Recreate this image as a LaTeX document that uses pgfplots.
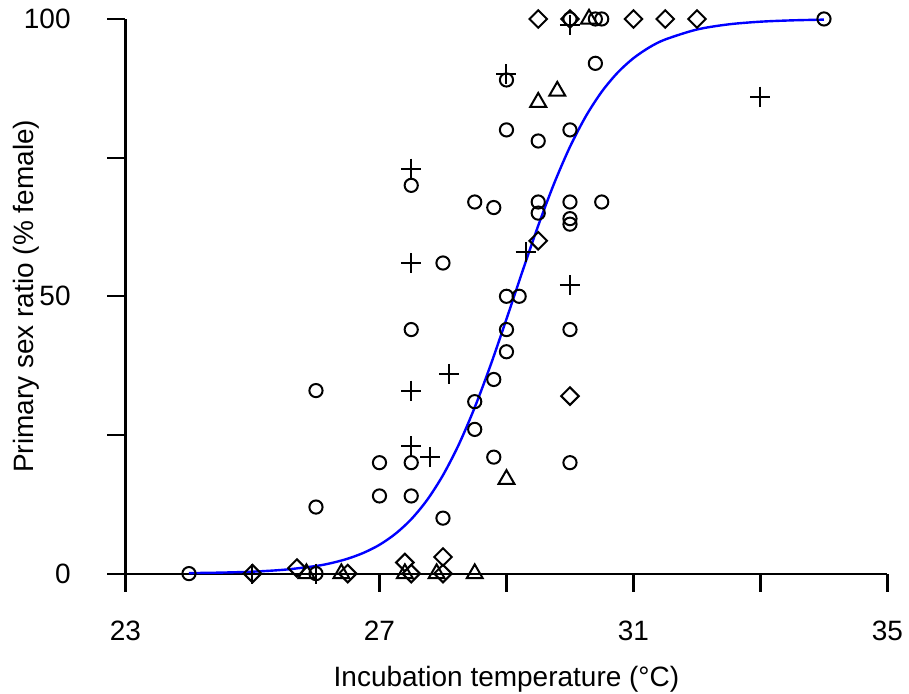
\documentclass[border=0pt]{standalone}
\usepackage{pgfplots}
\pgfplotsset{compat=1.18}
\usepackage{fontspec}
\setmainfont{Liberation Sans}
\definecolor{fitblue}{RGB}{0,0,255}
\begin{document}
\begin{tikzpicture}
\begin{axis}[
    scale only axis,
    width=381.25pt, height=277.5pt,
    xmin=23, xmax=35, ymin=0, ymax=100,
    axis lines=left,
    axis line style={-, line width=1.1pt},
    clip=false,
    tick align=outside,
    major tick length=9pt,
    tick style={black, line width=1.1pt},
    xtick={23,27,29,31,33,35},
    xticklabels={23,27,,31,,35},
    ytick={0,25,50,75,100},
    yticklabels={0,,50,,100},
    /pgf/number format/assume math mode=true,
    every tick label/.append style={font=\fontsize{14}{17}\selectfont},
    xticklabel style={anchor=center, inner sep=0pt, yshift=-19.5pt},
    yticklabel style={anchor=east, inner sep=0pt, xshift=-18.25pt},
    xlabel={Incubation temperature (°C)},
    ylabel={Primary sex ratio (\% female)},
    label style={font=\fontsize{14}{17}\selectfont},
    xlabel style={at={([yshift=-53pt]axis description cs:0.5,0)}, anchor=center, inner sep=0pt},
    ylabel style={at={([xshift=-49.75pt]axis description cs:0,0.5)}, anchor=center, inner sep=0pt},
  ]
  % page size of the reference
  \path (axis cs:21.024,-21.62) rectangle (axis cs:35.339,103.42);

  % circles
  \addplot[only marks, mark=o, mark size=3.3pt, line width=1pt, black] coordinates {
    (24,0) (26,0) (26,12) (26,33)
    (27,14) (27,20)
    (27.5,14) (27.5,20) (27.5,44) (27.5,70)
    (28,10) (28,56)
    (28.5,26) (28.5,31) (28.5,67)
    (28.8,21) (28.8,35) (28.8,66)
    (29,40) (29,44) (29,50) (29,80) (29,89)
    (29.2,50)
    (29.5,65) (29.5,67) (29.5,78)
    (30,20) (30,44) (30,63) (30,64) (30,67) (30,80) (30,100)
    (30.4,92) (30.4,100) (30.5,67) (30.5,100)
    (34,100)
  };
  % crosses
  \addplot[only marks, mark=+, mark size=5pt, line width=1pt, black] coordinates {
    (25,0) (26,0)
    (27.5,23) (27.5,33) (27.5,56) (27.5,73)
    (27.8,21) (28.1,36)
    (29,90) (29.3,58)
    (30,52) (30,99)
    (33,86)
  };
  % diamonds
  \addplot[only marks, mark=square, mark size=3.1pt, line width=1pt, black,
    every mark/.append style={rotate=45}] coordinates {
    (25,0) (25.7,1) (26.5,0)
    (27.4,2) (27.5,0) (28,3) (28,0)
    (29.5,60) (30,32)
    (29.5,100) (30,100) (31,100) (31.5,100) (32,100)
  };
  % triangles
  \addplot[only marks, mark=triangle, mark size=4.6pt, line width=1pt, black] coordinates {
    (25.85,0) (26.4,0) (27.4,0) (27.9,0) (28.5,0)
    (29,17) (29.5,85) (29.8,87) (30.3,100)
  };
  % fitted curve
  \addplot[fitblue, line width=1.2pt, smooth, no marks] coordinates {
    (24,0.09) (24.5,0.18) (25,0.35) (25.5,0.70) (26,1.37)
    (26.25,1.92) (26.5,2.69) (26.75,3.75) (27,5.19) (27.25,7.17)
    (27.5,9.80) (27.75,13.27) (28,17.74) (28.25,23.29) (28.5,29.96)
    (28.75,37.59) (29,45.90) (29.25,54.44) (29.5,62.74) (29.75,70.33)
    (30,76.95) (30.25,82.46) (30.5,86.88) (30.75,90.32) (31,92.93)
    (31.25,94.88) (31.5,96.30) (32,98.10) (32.5,99.03) (33,99.51)
    (33.5,99.75) (34,99.88)
  };
\end{axis}
\end{tikzpicture}
\end{document}
